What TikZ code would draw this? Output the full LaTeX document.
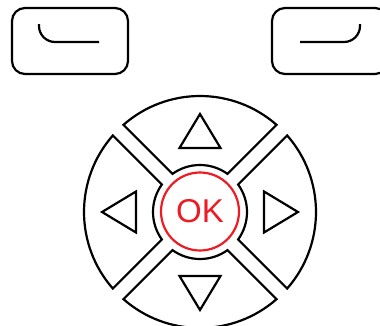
\documentclass[tikz,border=0pt]{standalone}
\usepackage{fontspec}
\usepackage{tikz}
\newfontfamily\okfont{Liberation Sans}
\definecolor{okred}{RGB}{237,28,36}
\tikzset{
  softkey/.style={draw,rounded corners=13pt,minimum width=116pt,minimum height=66pt,inner sep=0pt},
  okbutton/.style={circle,draw=okred,text=okred,minimum size=78pt,inner sep=0pt,
    font=\okfont\fontsize{33}{33}\selectfont}
}

\begin{document}
\begin{tikzpicture}[x=1pt,y=1pt,line width=2.2pt]
    \useasboundingbox (0,0) rectangle (380,325);
    % soft keys
    \node[softkey] (leftkey) at (70,284) {};
    \node[softkey] (rightkey) at (330,284) {};
    \draw (39,301) -- (39,299) arc (180:270:16) -- (99,283);
    \draw (300,283) -- (344,283) arc (270:360:16) -- (360,301);
    % direction pad
    \coordinate (pad) at (200,113);
    \foreach \a in {0,90,180,270}{
        \begin{scope}[shift={(pad)},rotate=\a]
            \draw (48.7:116) arc (48.7:131.3:116) -- (125.8:47) arc (125.8:54.2:47) -- cycle;
            \draw (-20.5,64) -- (20.5,64) -- (0,98) -- cycle;
        \end{scope}
    }
    \node[okbutton] (ok) at (200,113.5) {OK};
\end{tikzpicture}
\end{document}
